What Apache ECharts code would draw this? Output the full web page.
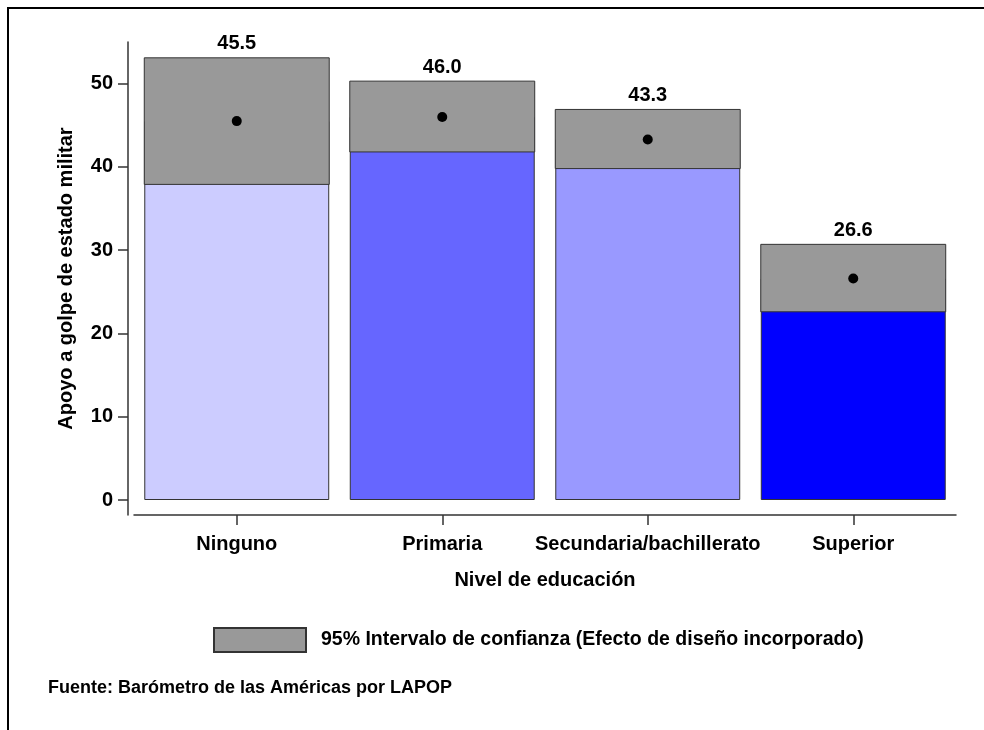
<!DOCTYPE html>
<html>
<head>
<meta charset="utf-8">
<script src="https://cdn.jsdelivr.net/npm/echarts@6/dist/echarts.min.js"></script>
<style>
  html, body { margin: 0; padding: 0; background: #fff; }
  #main { width: 984px; height: 730px; }
</style>
</head>
<body>
<div id="main"></div>
<script>
// datos
var categories = ["Ninguno", "Primaria", "Secundaria/bachillerato", "Superior"];
var means = [45.5, 46.0, 43.3, 26.6];
var ciLow = [37.9, 41.8, 39.8, 22.6];
var ciHigh = [53.1, 50.3, 46.9, 30.7];
var yTicks = [0, 10, 20, 30, 40, 50];

var barColors = ["#ccccff", "#6666ff", "#9999ff", "#0000ff"];
var ciName = "95% Intervalo de confianza (Efecto de diseño incorporado)";
var font = "Liberation Sans, Arial, sans-serif";

var myChart = echarts.init(document.getElementById("main"));

var ciData = [];
for (var i = 0; i < categories.length; i++) {
  ciData.push([i, ciLow[i], ciHigh[i], means[i]]);
}

var option = {
  animation: false,
  backgroundColor: "#fff",
  textStyle: { fontFamily: font },
  grid: { left: 134, right: 28, top: 42, bottom: 215 },
  legend: {
    left: 213,
    top: 627,
    padding: 0,
    itemWidth: 92,
    itemHeight: 24,
    itemGap: 14,
    data: [{ name: ciName, icon: "rect" }],
    textStyle: { fontFamily: font, fontWeight: "bold", fontSize: 19.5, color: "#000", padding: [0, 0, 0, 10] },
  },
  title: {
    text: "Fuente: Barómetro de las Américas por LAPOP",
    left: 48,
    top: 679,
    padding: 0,
    textStyle: { fontFamily: font, fontWeight: "bold", fontSize: 18, color: "#000" },
  },
  graphic: [
    {
      type: "polyline",
      shape: { points: [[8, 730], [8, 8], [984, 8]] },
      style: { stroke: "#000", lineWidth: 2, fill: null },
    },
  ],
  xAxis: {
    type: "category",
    data: categories,
    name: "Nivel de educación",
    nameLocation: "middle",
    nameGap: 55,
    nameTextStyle: { fontFamily: font, fontWeight: "bold", fontSize: 20, color: "#000" },
    axisLine: { show: true, onZero: false, lineStyle: { color: "#333", width: 1.5 } },
    axisTick: { show: true, alignWithLabel: true, interval: 0, length: 10, lineStyle: { color: "#333", width: 1.5 } },
    axisLabel: { interval: 0, margin: 19, fontFamily: font, fontWeight: "bold", fontSize: 20, color: "#000" },
    splitLine: { show: false },
  },
  yAxis: {
    type: "value",
    min: -1.8,
    max: 55,
    offset: 6,
    name: "Apoyo a golpe de estado militar",
    nameLocation: "middle",
    nameGap: 52,
    nameTextStyle: { fontFamily: font, fontWeight: "bold", fontSize: 20, color: "#000" },
    axisLine: { show: true, lineStyle: { color: "#333", width: 1.5 } },
    axisTick: { show: true, length: 10, customValues: yTicks, lineStyle: { color: "#333", width: 1.5 } },
    axisLabel: { margin: 15, customValues: yTicks, fontFamily: font, fontWeight: "bold", fontSize: 20, color: "#000" },
    splitLine: { show: false },
  },
  series: [
    {
      name: "media",
      type: "bar",
      barWidth: "90%",
      data: means.map(function (v, i) {
        return { value: v, itemStyle: { color: barColors[i] } };
      }),
      itemStyle: { borderColor: "#333", borderWidth: 1 },
      z: 2,
    },
    {
      name: ciName,
      type: "custom",
      itemStyle: { color: "#999999", borderColor: "#333", borderWidth: 1 },
      renderItem: function (params, api) {
        var x = api.value(0);
        var top = api.coord([x, api.value(2)]);
        var bottom = api.coord([x, api.value(1)]);
        var w = api.size([1, 0])[0] * 0.9;
        return {
          type: "group",
          children: [
            {
              type: "rect",
              shape: { x: top[0] - w / 2, y: top[1], width: w, height: bottom[1] - top[1] },
              style: { fill: "#999999", stroke: "#333", lineWidth: 1 },
            },
            {
              type: "text",
              x: top[0],
              y: top[1] - 4,
              style: {
                text: api.value(3).toFixed(1),
                align: "center",
                verticalAlign: "bottom",
                font: "bold 20px " + font,
                fill: "#000",
              },
            },
          ],
        };
      },
      encode: { x: 0, y: [1, 2] },
      data: ciData,
      z: 3,
    },
    {
      name: "punto",
      type: "scatter",
      symbol: "circle",
      symbolSize: 10,
      itemStyle: { color: "#000", opacity: 1 },
      data: means.map(function (v, i) { return [i, v]; }),
      z: 4,
    },
  ],
};

myChart.setOption(option);
window.addEventListener("resize", myChart.resize);
</script>
</body>
</html>
